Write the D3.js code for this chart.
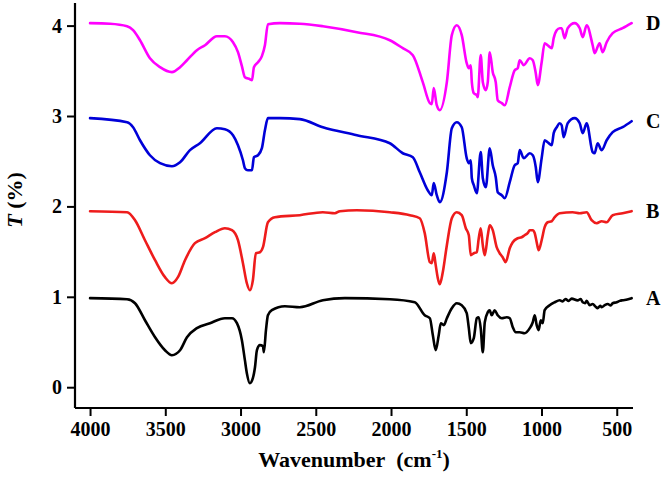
<!DOCTYPE html>
<html>
<head>
<meta charset="utf-8">
<script src="https://cdn.jsdelivr.net/npm/d3@7"></script>
<style>
  html, body { margin: 0; padding: 0; background: #fff; }
  svg { display: block; }
  text { font-family: "Liberation Serif", "Times New Roman", serif; font-weight: bold; fill: #000; }
</style>
</head>
<body>
<svg id="chart" width="666" height="479"></svg>
<script>
// ---- data (wavenumber cm^-1, T) ----
const seriesNames = ["A", "B", "C", "D"];
const seriesColors = ["#000000", "#ee1c1c", "#0000d8", "#ff00ff"];
const xTicks = [4000, 3500, 3000, 2500, 2000, 1500, 1000, 500];
const xMinorTicks = [3750, 3250, 2750, 2250, 1750, 1250, 750];
const yTicks = [0, 1, 2, 3, 4];
const yMinorTicks = [0.5, 1.5, 2.5, 3.5];

const seriesA = [
  [4000,0.985],[3754,0.973],[3701,0.929],[3635,0.741],[3568,0.553],[3502,0.409],[3456,0.354],[3402,0.409],
  [3356,0.553],[3290,0.653],[3203,0.708],[3104,0.763],[3057,0.763],[3024,0.708],[2991,0.520],[2971,0.299],
  [2958,0.155],[2938,0.044],[2918,0.100],[2904,0.221],[2891,0.409],[2871,0.465],[2851,0.454],[2845,0.387],
  [2831,0.631],[2818,0.796],[2792,0.852],[2705,0.896],[2606,0.885],[2453,0.962],[2307,0.985],[2008,0.973],
  [1842,0.940],[1776,0.796],[1742,0.763],[1722,0.575],[1703,0.409],[1683,0.575],[1669,0.708],[1649,0.686],
  [1629,0.763],[1596,0.874],[1563,0.929],[1530,0.907],[1497,0.819],[1483,0.653],[1470,0.487],[1450,0.542],
  [1430,0.763],[1417,0.774],[1404,0.653],[1390,0.387],[1377,0.719],[1357,0.830],[1344,0.850],[1331,0.796],
  [1311,0.852],[1291,0.796],[1264,0.763],[1231,0.774],[1211,0.763],[1191,0.664],[1171,0.608],[1145,0.608],
  [1112,0.597],[1078,0.653],[1058,0.719],[1045,0.796],[1032,0.686],[1019,0.631],[1005,0.741],[992,0.708],
  [979,0.852],[946,0.907],[912,0.940],[879,0.962],[860,0.950],[840,0.975],[820,0.955],[800,0.980],
  [760,0.960],[740,0.975],[726,0.940],[710,0.930],[700,0.955],[680,0.907],[660,0.920],[640,0.890],
  [627,0.874],[610,0.900],[600,0.885],[580,0.907],[560,0.920],[540,0.905],[527,0.929],[500,0.940],
  [480,0.955],[461,0.962],[430,0.970],[401,0.985]
];
const seriesB = [
  [4000,1.947],[3754,1.936],[3701,1.847],[3635,1.626],[3568,1.405],[3502,1.217],[3456,1.150],[3416,1.217],
  [3369,1.405],[3303,1.593],[3236,1.648],[3170,1.715],[3104,1.759],[3057,1.737],[3017,1.626],[2984,1.372],
  [2958,1.150],[2938,1.073],[2918,1.184],[2898,1.482],[2871,1.493],[2851,1.549],[2818,1.825],[2772,1.881],
  [2606,1.903],[2453,1.936],[2373,1.925],[2340,1.947],[2227,1.958],[2008,1.936],[1875,1.903],[1809,1.869],
  [1776,1.704],[1742,1.383],[1729,1.372],[1716,1.482],[1703,1.350],[1689,1.206],[1676,1.139],[1656,1.272],
  [1629,1.571],[1596,1.869],[1563,1.936],[1530,1.903],[1503,1.759],[1483,1.681],[1470,1.460],[1450,1.482],
  [1430,1.493],[1417,1.648],[1404,1.759],[1390,1.571],[1377,1.460],[1357,1.681],[1344,1.792],[1324,1.737],
  [1298,1.549],[1278,1.482],[1258,1.438],[1238,1.383],[1211,1.538],[1191,1.604],[1158,1.648],[1132,1.659],
  [1112,1.681],[1092,1.704],[1078,1.737],[1058,1.737],[1045,1.704],[1032,1.604],[1019,1.515],[999,1.626],
  [979,1.770],[959,1.825],[932,1.836],[912,1.881],[879,1.925],[793,1.936],[746,1.925],[700,1.936],
  [667,1.847],[633,1.814],[600,1.836],[567,1.825],[527,1.903],[461,1.925],[401,1.947]
];
const seriesC = [
  [4000,2.976],[3754,2.931],[3714,2.876],[3668,2.732],[3602,2.566],[3535,2.478],[3456,2.445],[3402,2.489],
  [3336,2.622],[3270,2.699],[3157,2.865],[3104,2.854],[3050,2.788],[3017,2.677],[2984,2.511],[2971,2.423],
  [2951,2.400],[2924,2.400],[2911,2.544],[2884,2.566],[2858,2.644],[2838,2.843],[2818,2.976],[2738,2.976],
  [2606,2.965],[2453,2.876],[2227,2.788],[2008,2.699],[1922,2.588],[1855,2.544],[1809,2.378],[1756,2.179],
  [1729,2.124],[1716,2.257],[1696,2.124],[1676,2.046],[1629,2.378],[1596,2.865],[1563,2.931],[1530,2.876],
  [1497,2.533],[1483,2.478],[1470,2.511],[1463,2.312],[1450,2.235],[1430,2.146],[1404,2.600],[1390,2.312],
  [1370,2.212],[1344,2.644],[1324,2.456],[1304,2.323],[1291,2.157],[1264,2.124],[1244,2.091],[1211,2.268],
  [1178,2.456],[1158,2.478],[1145,2.622],[1118,2.533],[1078,2.588],[1058,2.566],[1038,2.434],[1025,2.268],
  [999,2.533],[979,2.732],[959,2.710],[932,2.677],[919,2.810],[899,2.876],[879,2.920],[866,2.898],
  [853,2.765],[826,2.920],[780,2.976],[746,2.920],[726,2.810],[700,2.920],[660,2.600],[647,2.588],
  [627,2.699],[600,2.622],[567,2.732],[527,2.821],[461,2.876],[401,2.942]
];
const seriesD = [
  [4000,4.027],[3867,4.021],[3754,3.993],[3714,3.949],[3668,3.838],[3602,3.639],[3535,3.540],[3456,3.485],
  [3402,3.540],[3356,3.617],[3290,3.728],[3236,3.783],[3157,3.883],[3104,3.883],[3050,3.816],[3017,3.706],
  [2991,3.551],[2971,3.429],[2938,3.407],[2924,3.396],[2911,3.540],[2884,3.595],[2858,3.662],[2838,3.783],
  [2818,4.015],[2738,4.027],[2606,4.021],[2453,3.993],[2227,3.927],[2008,3.838],[1922,3.750],[1855,3.673],
  [1789,3.374],[1742,3.142],[1729,3.131],[1716,3.308],[1696,3.119],[1676,3.064],[1629,3.374],[1596,3.894],
  [1563,4.004],[1530,3.894],[1497,3.584],[1483,3.529],[1470,3.562],[1463,3.374],[1450,3.252],[1430,3.230],
  [1424,3.208],[1404,3.673],[1390,3.374],[1370,3.285],[1357,3.374],[1344,3.706],[1324,3.485],[1304,3.374],
  [1291,3.175],[1264,3.142],[1244,3.119],[1211,3.319],[1178,3.507],[1158,3.529],[1145,3.617],[1118,3.562],
  [1078,3.639],[1058,3.617],[1038,3.473],[1025,3.341],[999,3.595],[979,3.805],[959,3.783],[932,3.750],
  [919,3.861],[899,3.949],[879,3.971],[866,3.971],[846,3.861],[826,3.971],[780,4.027],[746,3.971],
  [726,3.872],[700,4.004],[660,3.783],[647,3.695],[614,3.805],[594,3.706],[567,3.816],[527,3.916],
  [461,3.971],[401,4.027]
];
const allSeries = [seriesA, seriesB, seriesC, seriesD];

// ---- chart ----
const svg = d3.select("#chart");
const x = d3.scaleLinear().domain([4100, 392]).range([75, 633]);
const y = d3.scaleLinear().domain([-0.23, 4.25]).range([408, 3]);

const line = d3.line()
  .x(d => x(d[0]))
  .y(d => y(d[1]))
  .curve(d3.curveMonotoneX);

svg.append("g").selectAll("path")
  .data(allSeries)
  .join("path")
  .attr("d", line)
  .attr("fill", "none")
  .attr("stroke", (d, i) => seriesColors[i])
  .attr("stroke-width", 2.6)
  .attr("stroke-linejoin", "round")
  .attr("stroke-linecap", "round");

// series labels
svg.append("g").selectAll("text")
  .data(allSeries)
  .join("text")
  .attr("x", 646)
  .attr("y", d => y(d[d.length - 1][1]) + 7)
  .attr("font-size", 20)
  .text((d, i) => seriesNames[i]);

// x axis
const xAxis = svg.append("g").attr("transform", "translate(0,408)");
xAxis.call(d3.axisBottom(x).tickValues(xMinorTicks).tickSize(4).tickFormat(""));
xAxis.call(d3.axisBottom(x).tickValues(xTicks).tickSize(8).tickPadding(6).tickFormat(d3.format("d")));
xAxis.selectAll("path.domain").attr("stroke-width", 2.2);
xAxis.selectAll(".tick line").attr("stroke-width", 2);
xAxis.selectAll("text").attr("font-size", 20).attr("font-family", "Liberation Serif, serif").attr("font-weight", "bold");
xAxis.selectAll("path.domain").attr("d", "M75,0H633");

// y axis
const yAxis = svg.append("g").attr("transform", "translate(75,0)");
yAxis.call(d3.axisLeft(y).tickValues(yMinorTicks).tickSize(4).tickFormat(""));
yAxis.call(d3.axisLeft(y).tickValues(yTicks).tickSize(8).tickPadding(5).tickFormat(d3.format("d")));
yAxis.selectAll("path.domain").attr("stroke-width", 2.2).attr("d", "M0,3V408");
yAxis.selectAll(".tick line").attr("stroke-width", 2);
yAxis.selectAll("text").attr("font-size", 20).attr("font-family", "Liberation Serif, serif").attr("font-weight", "bold");

// axis titles
const xt = svg.append("text")
  .attr("x", 354).attr("y", 467)
  .attr("text-anchor", "middle")
  .attr("font-size", 22);
xt.append("tspan").text("Wavenumber\u00A0\u00A0(cm");
xt.append("tspan").attr("font-size", 13).attr("dy", -9).text("-1");
xt.append("tspan").attr("dy", 9).text(")");

const yt = svg.append("text")
  .attr("transform", "translate(22,200) rotate(-90)")
  .attr("text-anchor", "middle")
  .attr("font-size", 22);
yt.append("tspan").attr("font-style", "italic").text("T");
yt.append("tspan").text("\u00A0(%)");
</script>
</body>
</html>
